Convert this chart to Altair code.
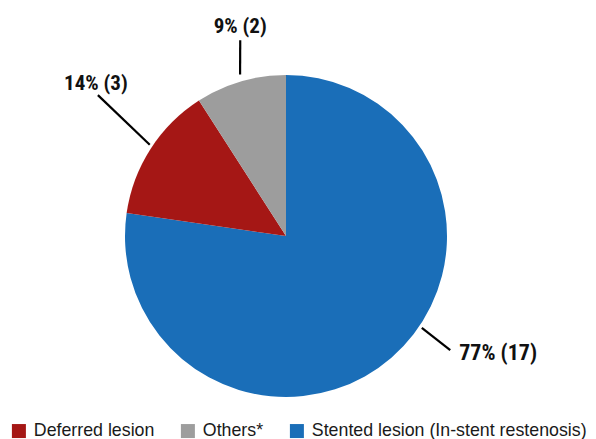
import math
import altair as alt
import pandas as pd

# ---- data ----
categories = ["Stented lesion (In-stent restenosis)", "Deferred lesion", "Others*"]
counts = [17, 3, 2]
slice_labels = ["77% (17)", "14% (3)", "9% (2)"]
legend_order = ["Deferred lesion", "Others*", "Stented lesion (In-stent restenosis)"]
legend_colors = ["#a51715", "#9d9d9d", "#1a6eb8"]

# ---- layout / style ----
W, H = 596, 439
CX, CY, R = 286, 236, 161
LABEL_FONT = "Roboto Condensed, Roboto, sans-serif"
LEGEND_FONT = "Liberation Sans, Arial, sans-serif"
# leader geometry per slice: (start angle offset, r0, end angle offset, r1, text dx, text dy, align, size)
leader_spec = [
    (-15.0, 164, -14.3, 200, 9, 10, "left", 22),
    (1.1, 164, 4.1, 235, -2, -5, "center", 21),
    (0.5, 168, 3.2, 201, 0, -7, "center", 21),
]

total = sum(counts)
pie_df = pd.DataFrame({
    "category": categories,
    "count": counts,
    "order": list(range(len(categories))),
})

# leader lines derived from slice mid angles
rows = []
cum = 0
for cat, c, lab, spec in zip(categories, counts, slice_labels, leader_spec):
    mid = (cum + c / 2) / total * 360
    cum += c
    a0 = math.radians(mid + spec[0])
    a1 = math.radians(mid + spec[2])
    x0, y0 = CX + spec[1] * math.sin(a0), CY - spec[1] * math.cos(a0)
    x1, y1 = CX + spec[3] * math.sin(a1), CY - spec[3] * math.cos(a1)
    rows.append({"category": cat, "label": lab, "x0": x0, "y0": y0, "x1": x1, "y1": y1,
                 "tx": x1 + spec[4], "ty": y1 + spec[5]})
lead_df = pd.DataFrame(rows)

xs = alt.Scale(domain=[0, W], range=[0, W])
ys = alt.Scale(domain=[0, H], range=[0, H])

pie = alt.Chart(pie_df).mark_arc(radius=R, strokeWidth=0).encode(
    theta=alt.Theta("count:Q", stack=True),
    order=alt.Order("order:Q"),
    color=alt.Color(
        "category:N",
        scale=alt.Scale(domain=legend_order, range=legend_colors),
        sort=legend_order,
        legend=alt.Legend(
            title=None,
            orient="none",
            legendX=10,
            legendY=422,
            direction="horizontal",
            symbolType="square",
            symbolSize=196,
            symbolStrokeWidth=0,
            symbolOpacity=1,
            labelFont=LEGEND_FONT,
            labelFontSize=17.8,
            labelColor="#1a1a1a",
            labelOffset=6,
            columnPadding=24,
            labelLimit=400,
        ),
    ),
    x=alt.value(CX),
    y=alt.value(CY),
)

lines = alt.Chart(lead_df).mark_rule(color="#000000", strokeWidth=2.2).encode(
    x=alt.X("x0:Q", scale=xs, axis=None),
    y=alt.Y("y0:Q", scale=ys, axis=None),
    x2="x1:Q",
    y2="y1:Q",
)

text_layers = []
for i, spec in enumerate(leader_spec):
    t = alt.Chart(lead_df.iloc[[i]]).mark_text(
        align=spec[6], baseline="alphabetic", font=LABEL_FONT, fontWeight="bold",
        fontSize=spec[7], color="#111111",
    ).encode(
        x=alt.X("tx:Q", scale=xs, axis=None),
        y=alt.Y("ty:Q", scale=ys, axis=None),
        text="label:N",
    )
    text_layers.append(t)

chart = alt.layer(pie, lines, *text_layers).properties(
    width=W, height=H, autosize=alt.AutoSizeParams(type="none"), padding=0,
).configure_view(stroke=None).resolve_scale(color="independent")

chart.save("out.html", embed_options={"renderer": "svg", "actions": False})
